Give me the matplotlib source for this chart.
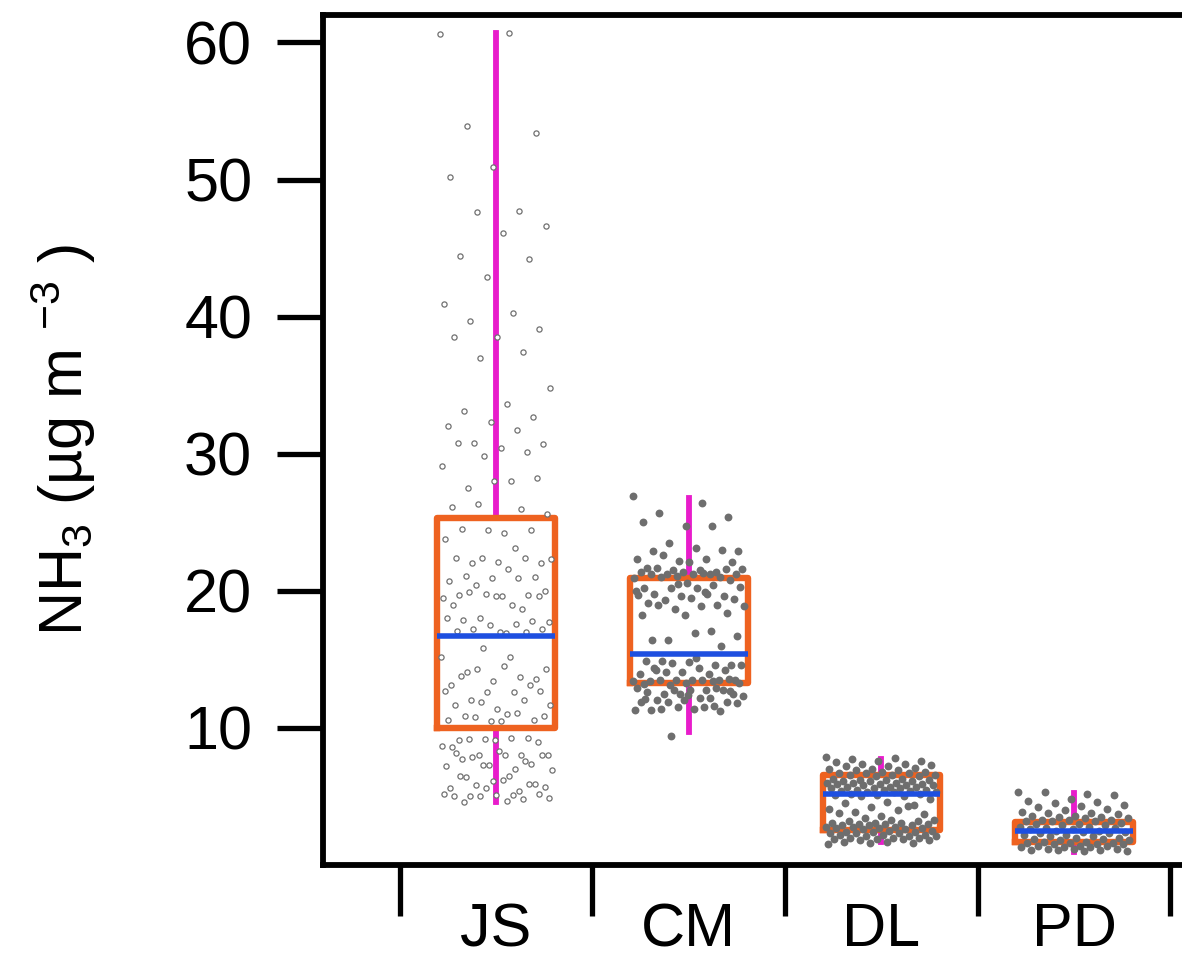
import numpy as np
import matplotlib
matplotlib.use("Agg")
import matplotlib.pyplot as plt
from matplotlib.ticker import FixedLocator

plt.rcParams['font.family'] = ['Liberation Sans', 'DejaVu Sans']
plt.rcParams['mathtext.fontset'] = 'custom'
plt.rcParams['mathtext.rm'] = 'Liberation Sans'
plt.rcParams['mathtext.it'] = 'Liberation Sans:italic'

# sites
sites = ['JS', 'CM', 'DL', 'PD']

# box statistics (ug m-3)
q1 = [10.0, 13.3, 2.55, 1.7]
med = [16.7, 15.4, 5.2, 2.5]
q3 = [25.3, 20.9, 6.6, 3.15]
lo = [4.6, 9.7, 1.7, 0.95]
hi = [60.7, 26.8, 7.7, 5.25]

# individual samples (estimated from the dots)
js_vals = [60.6, 60.7, 53.9, 53.4, 50.9, 50.2, 47.7, 47.6, 46.6, 46.1, 44.4, 44.2, 42.9,
           40.9, 40.3, 39.7, 39.1, 38.5, 38.5, 37.4, 37.0, 34.8, 33.6, 33.1, 32.7, 32.3,
           32.0, 31.7, 30.8, 30.7, 30.4, 30.8, 30.1, 29.8, 29.1, 28.0, 27.5, 28.2, 28.0,
           26.1, 26.0, 26.3, 25.6,
           24.2, 24.5, 24.4, 24.4, 23.8, 23.1, 22.0, 22.0, 22.1, 22.4, 22.4, 22.4, 22.3,
           21.6, 21.1, 21.0, 20.9, 20.7, 20.9, 20.4, 20.0, 19.6, 19.7, 19.7, 19.8, 19.5,
           19.0, 19.9, 19.6, 19.6, 19.0, 18.7, 18.0, 17.7, 16.9, 17.9, 17.8, 17.5, 18.0,
           17.6, 17.2, 17.2, 17.0, 17.1, 17.0, 15.8, 15.2, 15.2, 14.1, 13.6, 13.4, 13.1,
           13.7, 14.3, 14.3, 14.5, 13.8, 13.1, 12.6, 12.7, 12.6, 12.0, 12.7, 11.4, 11.7,
           12.0, 11.9, 11.7, 11.0, 10.9, 10.6, 10.5, 10.6, 11.1, 10.8, 10.9, 10.5,
           9.1, 9.3, 9.2, 8.7, 9.3, 9.2, 9.0, 9.1, 8.6, 8.0, 8.0, 8.0, 8.0, 7.7, 7.4, 7.3,
           7.2, 7.0, 7.9, 8.0, 8.3, 8.2, 7.6, 7.3, 6.9, 6.5, 6.4, 5.9, 6.1, 5.6, 5.4, 5.8,
           5.7, 6.2, 6.5, 5.9, 5.6, 5.2, 5.1, 5.0, 5.2, 5.1, 5.0, 4.8, 5.0, 4.9, 4.7, 4.6]

cm_vals = [26.9, 26.4, 25.7, 25.4, 24.7, 25.0, 24.7, 23.5, 22.9, 23.1, 22.9, 23.0, 22.2,
           22.3, 22.3, 22.6, 22.1, 22.1, 21.7, 21.4, 21.5, 21.6, 21.5, 21.7, 21.6, 21.4,
           21.4, 21.2, 21.2, 21.2, 21.2, 21.2, 21.0, 21.1, 20.9, 21.3, 21.0, 20.8,
           20.6, 20.2, 20.4, 20.2, 20.3, 20.2, 19.8, 19.6, 19.6, 19.7, 19.8, 19.3, 19.4,
           19.5, 19.1, 19.0, 18.7, 18.9, 18.9, 19.0, 18.4, 18.2, 18.2, 17.1, 16.4, 16.7,
           16.9, 16.4, 16.0, 20.5, 20.0, 19.9,
           14.9, 14.6, 14.8, 14.9, 14.6, 14.7, 14.6, 14.4, 14.2, 14.2, 14.1, 13.9, 13.9,
           14.1, 13.5, 13.5, 13.4, 13.5, 13.5, 13.4, 13.5, 13.5, 13.6, 13.3, 13.2, 13.4,
           13.1, 13.3, 15.1, 14.4,
           12.8, 12.5, 12.9, 12.8, 12.5, 12.5, 12.8, 12.6, 12.9, 12.8, 12.3, 12.2, 12.0,
           11.9, 12.0, 11.9, 12.2, 11.9, 11.8, 11.4, 11.3, 11.2, 11.5, 11.3, 11.5, 11.4,
           12.7, 12.4, 12.1, 11.6, 9.4]

dl_vals = [7.9, 7.8, 7.7, 7.6, 7.6, 7.5, 7.4, 7.4, 7.3, 7.2, 7.2, 7.1, 7.0, 7.0, 6.9,
           6.9, 6.8, 6.8, 6.7, 6.7, 6.7, 6.6, 6.6, 6.6, 6.5, 6.5,
           6.3, 6.3, 6.2, 6.2, 6.2, 6.1, 6.1, 6.1, 6.0, 6.0, 6.0, 5.9, 5.9, 5.9, 5.8,
           5.8, 5.8, 5.7, 5.7, 5.7, 5.6, 5.6, 5.6, 5.5, 5.5, 5.5, 5.4, 5.4, 5.3, 5.3,
           5.3, 5.2, 5.2, 5.1, 5.1, 5.0, 5.0,
           4.8, 4.6, 4.5, 4.4, 4.2, 4.1, 4.0, 3.9, 3.7, 3.6, 3.8, 4.3,
           3.4, 3.3, 3.3, 3.2, 3.2, 3.1, 3.1, 3.1, 3.0, 3.0, 3.0, 2.9, 2.9, 2.9, 2.8,
           2.8, 2.8, 2.7, 2.7, 2.7, 2.6, 2.6,
           2.5, 2.5, 2.4, 2.4, 2.4, 2.3, 2.3, 2.3, 2.2, 2.2, 2.2, 2.1, 2.1, 2.1, 2.0,
           2.0, 2.0, 1.9, 1.9, 1.9, 1.8, 1.8, 1.7, 1.7, 1.6, 1.6, 1.5]

pd_vals = [5.3, 5.2, 5.3, 5.1, 4.8, 4.7, 4.6, 4.5, 4.4, 4.3, 4.2, 4.1, 4.0, 3.9, 3.8,
           3.8, 3.7, 3.6, 3.6, 3.5, 3.5, 3.4, 3.4, 3.3, 3.3, 3.3, 3.2, 3.2, 3.2,
           3.1, 3.0, 3.0, 2.9, 2.9, 2.8, 2.8, 2.7, 2.7, 2.6, 2.6, 2.5, 2.5, 2.4, 2.4,
           2.3, 2.3, 2.2, 2.2, 2.1, 2.1, 2.0, 2.0, 1.9, 1.9, 1.8, 1.8,
           1.7, 1.7, 1.6, 1.6, 1.6, 1.5, 1.5, 1.5, 1.4, 1.4, 1.4, 1.3, 1.3, 1.3, 1.2,
           1.2, 1.2, 1.1, 1.1, 1.1, 1.0, 1.0]

ORANGE = '#EE6220'
BLUE = '#1E4FE0'
MAGENTA = '#E81CCB'
GREY = '#6E6E6E'

fig = plt.figure(figsize=(11.82, 9.6), dpi=100)
ax = fig.add_axes([323 / 1182, 95 / 960, 859 / 1182, 850 / 960])

pos = np.arange(len(sites))
width = 0.61

# dots, spread sideways with a fixed (non random) pattern
for i, vals in enumerate([js_vals, cm_vals, dl_vals, pd_vals]):
    n = len(vals)
    off = ((np.arange(n) * 0.6180339887) % 1.0 - 0.5) * (width - 0.03)
    if i == 0:
        ax.scatter(pos[i] + off, vals, s=14, facecolors='white', edgecolors='#707070',
                   linewidths=0.9, zorder=2.5)
    else:
        ax.scatter(pos[i] + off, vals, s=32, color=GREY, linewidths=0, zorder=2.5)

stats = []
for i in range(len(sites)):
    stats.append({'med': med[i], 'q1': q1[i], 'q3': q3[i],
                  'whislo': lo[i], 'whishi': hi[i], 'label': sites[i]})

ax.bxp(stats, positions=pos, widths=width, showfliers=False, showcaps=False,
       boxprops=dict(color=ORANGE, linewidth=4.6, zorder=2),
       whiskerprops=dict(color=MAGENTA, linewidth=4.2, zorder=1.9),
       medianprops=dict(color=BLUE, linewidth=4.0, zorder=3))

ax.set_xlim(-0.898, -0.898 + 859 / 192.7)
ax.set_ylim(0, 62.0)

ax.spines['right'].set_visible(False)
for s in ['left', 'top', 'bottom']:
    ax.spines[s].set_linewidth(4.2)

# category borders as ticks, names in between
ax.xaxis.set_major_locator(FixedLocator([-0.5, 0.5, 1.5, 2.5, 3.5]))
ax.xaxis.set_major_formatter(plt.NullFormatter())
ax.xaxis.set_minor_locator(FixedLocator(pos))
ax.set_xticklabels(sites, minor=True)
ax.tick_params(axis='x', which='major', direction='out', length=37, width=3.8)
ax.tick_params(axis='x', which='minor', length=0, pad=27, labelsize=44)

ax.set_yticks([10, 20, 30, 40, 50, 60])
ax.tick_params(axis='y', direction='out', length=33, width=3.8, pad=18, labelsize=44)

ax.set_ylabel(r'NH$_3$ (µg m $^{-3}$ )', fontsize=44)
ax.yaxis.set_label_coords(-0.262, 0.5)

fig.savefig('out.png', dpi=100)
